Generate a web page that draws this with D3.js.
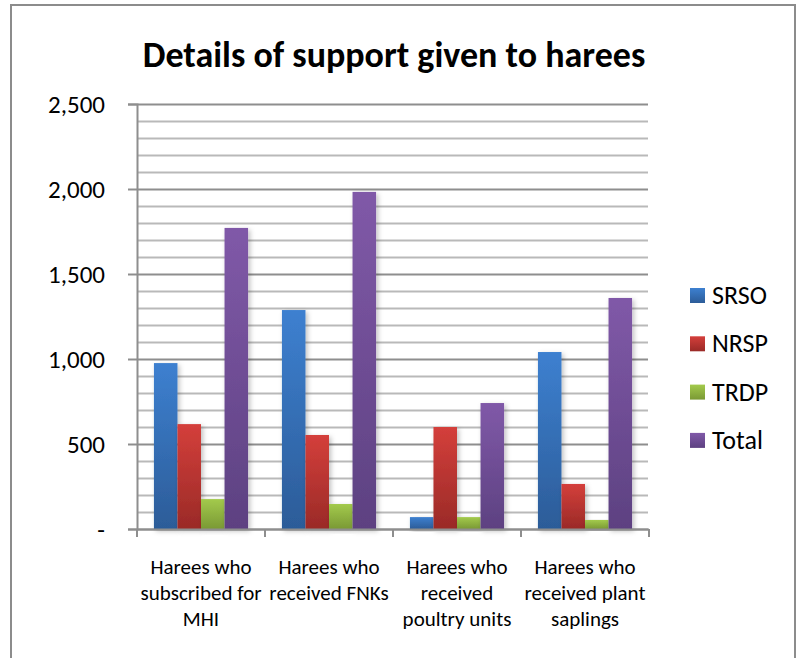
<!DOCTYPE html>
<html>
<head>
<meta charset="utf-8">
<script src="https://cdn.jsdelivr.net/npm/d3@7"></script>
<style>
  html, body { margin: 0; padding: 0; background: #fff; }
  svg { display: block; }
  text { font-family: Carlito, Calibri, Lato, "Open Sans", sans-serif; fill: #000; }
</style>
</head>
<body>
<svg id="chart" width="796" height="658"></svg>
<script>
// ---- data ----
const categories = [
  ["Harees who", "subscribed for", "MHI"],
  ["Harees who", "received FNKs"],
  ["Harees who", "received", "poultry units"],
  ["Harees who", "received plant", "saplings"]
];
const seriesNames = ["SRSO", "NRSP", "TRDP", "Total"];
const SRSO  = [976, 1288, 70, 1041];
const NRSP  = [617, 553, 600, 265];
const TRDP  = [176, 147, 70, 53];
const Total = [1771, 1983, 741, 1359];
const yTickValues = [0, 500, 1000, 1500, 2000, 2500];
const titleText = "Details of support given to harees";

// ---- styling ----
const seriesValues = [SRSO, NRSP, TRDP, Total];
const gradStops = [
  ["#3d80d0", "#2c5c98"],
  ["#d43f3b", "#9a2a27"],
  ["#a3ca4c", "#7a9935"],
  ["#8059a8", "#5d4181"]
];

const svg = d3.select("#chart");
const W = 796, H = 658;
const plot = { left: 137, right: 649, top: 104, bottom: 529 };

const defs = svg.append("defs");
seriesNames.forEach((s, i) => {
  const g = defs.append("linearGradient")
    .attr("id", "grad" + i).attr("x1", 0).attr("y1", 0).attr("x2", 0).attr("y2", 1);
  g.append("stop").attr("offset", "0%").attr("stop-color", gradStops[i][0]);
  g.append("stop").attr("offset", "100%").attr("stop-color", gradStops[i][1]);
});
const f = defs.append("filter").attr("id", "shadow")
  .attr("x", "-30%").attr("y", "-10%").attr("width", "160%").attr("height", "130%");
f.append("feDropShadow").attr("dx", 2).attr("dy", 2).attr("stdDeviation", 2.5)
  .attr("flood-color", "#000").attr("flood-opacity", 0.25);

// background + border
svg.append("rect").attr("width", W).attr("height", H).attr("fill", "#fff");
svg.append("rect").attr("x", 11).attr("y", 5).attr("width", 784).attr("height", 700)
  .attr("fill", "none").attr("stroke", "#8c8c8c").attr("stroke-width", 2);

// scales
const x0 = d3.scaleBand().domain(d3.range(categories.length))
  .range([plot.left, plot.right]).padding(0);
const x1 = d3.scaleBand().domain(seriesNames)
  .range([0, x0.bandwidth()]).paddingInner(0).paddingOuter(0.72);
const y = d3.scaleLinear().domain([0, 2500]).range([plot.bottom, plot.top]);

// gridlines
const minor = y.ticks(25);
svg.append("g").selectAll("line").data(minor).join("line")
  .attr("x1", plot.left).attr("x2", plot.right - 1)
  .attr("y1", d => Math.round(y(d)) + 0.5).attr("y2", d => Math.round(y(d)) + 0.5)
  .attr("stroke", d => d % 500 === 0 ? "#8e8e8e" : "#b9b9b9")
  .attr("stroke-width", 2);

// bars
const groups = svg.append("g").selectAll("g").data(categories.map((c, i) => i)).join("g")
  .attr("transform", i => `translate(${x0(i)},0)`);
groups.selectAll("rect")
  .data(i => seriesNames.map((s, k) => ({ s, k, v: seriesValues[k][i] })))
  .join("rect")
  .attr("x", d => x1(d.s))
  .attr("width", x1.bandwidth())
  .attr("y", d => y(d.v))
  .attr("height", d => y(0) - y(d.v))
  .attr("fill", d => `url(#grad${d.k})`)
  .attr("filter", "url(#shadow)");

// y axis
const yAxis = d3.axisLeft(y).tickValues(yTickValues)
  .tickFormat(d => d === 0 ? "-" : d3.format(",")(d))
  .tickSize(9).tickPadding(23);
const ya = svg.append("g").attr("transform", `translate(${plot.left},0)`).call(yAxis);
ya.select(".domain").attr("stroke", "#8e8e8e").attr("stroke-width", 2);
ya.selectAll(".tick line").attr("stroke", "#8e8e8e").attr("stroke-width", 2);
ya.selectAll(".tick text").attr("font-size", 25).attr("fill", "#000")
  .style("font-family", "Carlito, Calibri, Lato, sans-serif");

// x axis
const xa = svg.append("g").attr("transform", `translate(0,${plot.bottom})`);
xa.append("line").attr("x1", plot.left).attr("x2", plot.right)
  .attr("y1", 0.5).attr("y2", 0.5).attr("stroke", "#8e8e8e").attr("stroke-width", 2);
const boundaries = d3.range(categories.length + 1).map(i => i < categories.length ? x0(i) : x0(i - 1) + x0.bandwidth());
xa.selectAll("line.tk").data(boundaries).join("line").attr("class", "tk")
  .attr("x1", d => d).attr("x2", d => d).attr("y1", 0).attr("y2", 8)
  .attr("stroke", "#8e8e8e").attr("stroke-width", 2);

// x labels
const lab = svg.append("g").selectAll("text").data(categories).join("text")
  .attr("text-anchor", "middle").attr("font-size", 21)
  .attr("transform", (c, i) => `translate(${x0(i) + x0.bandwidth() / 2},574)`);
lab.selectAll("tspan").data(c => c).join("tspan")
  .attr("x", 0).attr("y", (d, j) => j * 26).text(d => d);

// title
svg.append("text").attr("x", 394).attr("y", 67).attr("text-anchor", "middle")
  .attr("font-size", 36).attr("font-weight", "bold").text(titleText);

// legend
const leg = svg.append("g").selectAll("g").data(seriesNames).join("g")
  .attr("transform", (s, i) => `translate(690,${295 + i * 48.3})`);
leg.append("rect").attr("x", 0).attr("y", -7).attr("width", 15).attr("height", 15)
  .attr("fill", (s, i) => `url(#grad${i})`);
leg.append("text").attr("x", 22).attr("y", 9).attr("font-size", 26).text(s => s);
</script>
</body>
</html>
